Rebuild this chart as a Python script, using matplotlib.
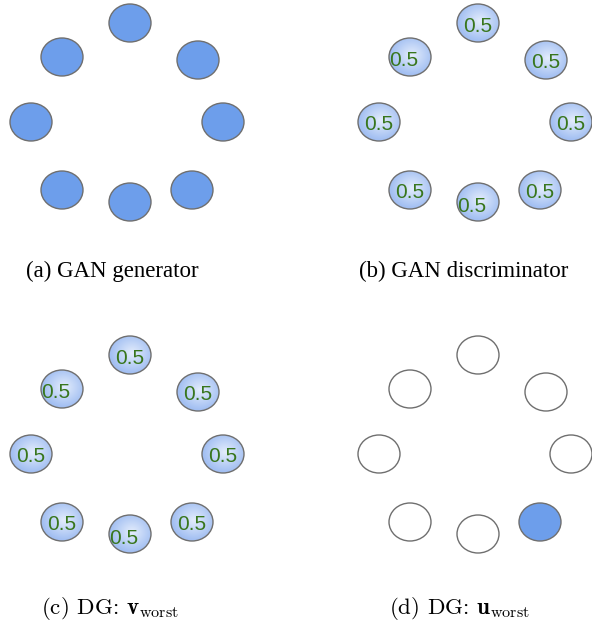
import numpy as np
import matplotlib
matplotlib.use("Agg")
import matplotlib.pyplot as plt
from matplotlib.patches import Ellipse
from matplotlib.colors import LinearSegmentedColormap

# node layout (offset from the top node of each panel, in pixels)
node_dx = [0, -68, 68, -99, 93, -68, 0, 62]
node_dy = [0, 34, 37, 99, 99, 167, 179, 167]

# panels: anchor of the top node, fill style, label, caption
panel_x = [130, 478, 130, 478]
panel_y = [23, 23, 355, 355]
panel_style = ["solid", "gradient", "gradient", "onehot"]
node_value = ["0.5"] * 8
hot_node = 7  # the single filled node in (d)
captions = ["(a) GAN generator", "(b) GAN discriminator",
            r"(c) DG: $\mathbf{v}_{\mathrm{worst}}$",
            r"(d) DG: $\mathbf{u}_{\mathrm{worst}}$"]
caption_font = ["Liberation Serif", "Liberation Serif", "cmr10", "cmr10"]
caption_x = [112, 464, 110, 459]
caption_y = [271, 271, 608, 608]

# label nudges (the text box sits a bit left on two nodes)
lab_dx = [0, -6, 0, 0, 0, 0, -6, 0]
lab_dy = [3, 3, 3, 3, 3, 3, 5, 3]

W, H = 592, 625
EW, EH = 42, 38
BLUE = "#6d9eeb"
EDGE = "#6f6f6f"
GREEN = "#38761d"

plt.rcParams["mathtext.fontset"] = "cm"

fig = plt.figure(figsize=(W / 100, H / 100), dpi=100)
ax = fig.add_axes([0, 0, 1, 1])
ax.set_xlim(0, W)
ax.set_ylim(H, 0)
ax.axis("off")

grad_cmap = LinearSegmentedColormap.from_list("g", ["#e4edfc", "#c3d6f7", "#a2bff2"])
yy, xx = np.mgrid[-1:1:80j, -1:1:80j]
rr = np.sqrt((xx - 0.1) ** 2 + (yy + 0.1) ** 2)
rr = np.clip(rr / 1.05, 0, 1)

for p in range(4):
    for i in range(len(node_dx)):
        cx = panel_x[p] + node_dx[i]
        cy = panel_y[p] + node_dy[i]
        style = panel_style[p]
        if style == "solid" or (style == "onehot" and i == hot_node):
            fc = BLUE
        else:
            fc = "white"
        if style == "gradient":
            bg = Ellipse((cx, cy), EW, EH, facecolor="none", edgecolor="none")
            ax.add_patch(bg)
            im = ax.imshow(rr, cmap=grad_cmap, vmin=0, vmax=1,
                           extent=(cx - EW / 2, cx + EW / 2, cy + EH / 2, cy - EH / 2),
                           interpolation="bilinear", zorder=1)
            im.set_clip_path(bg)
            e = Ellipse((cx, cy), EW, EH, facecolor="none", edgecolor=EDGE, lw=1.0, zorder=2)
            ax.add_patch(e)
            ax.text(cx + lab_dx[i], cy + lab_dy[i], node_value[i], color=GREEN,
                    fontsize=15, family="Liberation Sans", ha="center", va="center", zorder=3)
        else:
            e = Ellipse((cx, cy), EW, EH, facecolor=fc, edgecolor=EDGE, lw=1.0, zorder=2)
            ax.add_patch(e)
    ax.text(caption_x[p], caption_y[p], captions[p], fontsize=16.5,
            family=caption_font[p], ha="center", va="center")

ax.set_xlim(0, W)
ax.set_ylim(H, 0)
ax.set_aspect("auto")
fig.savefig("out.png", dpi=100)
